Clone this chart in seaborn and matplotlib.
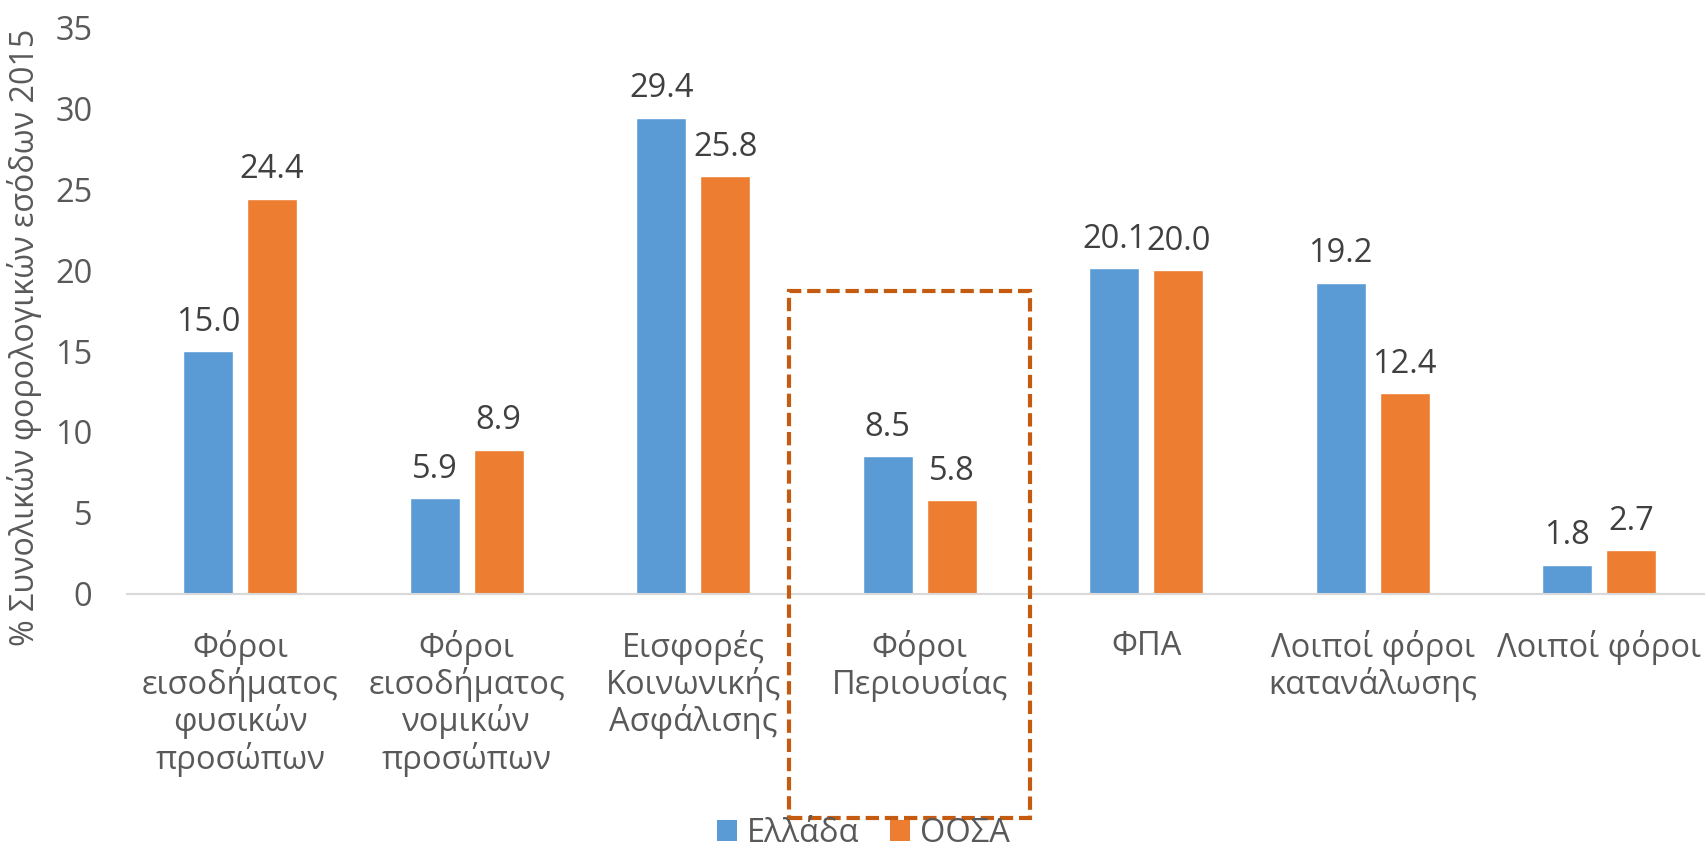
import matplotlib
matplotlib.use("Agg")
import matplotlib.pyplot as plt
import seaborn as sns
import pandas as pd
from matplotlib.patches import Rectangle, Patch

categories = [
    "Φόροι\nεισοδήματος\nφυσικών\nπροσώπων",
    "Φόροι\nεισοδήματος\nνομικών\nπροσώπων",
    "Εισφορές\nΚοινωνικής\nΑσφάλισης",
    "Φόροι\nΠεριουσίας",
    "ΦΠΑ",
    "Λοιποί φόροι\nκατανάλωσης",
    "Λοιποί φόροι",
]
series_names = ["Ελλάδα", "ΟΟΣΑ"]
greece = [15.0, 5.9, 29.4, 8.5, 20.1, 19.2, 1.8]
oecd = [24.4, 8.9, 25.8, 5.8, 20.0, 12.4, 2.7]
y_ticks = [0, 5, 10, 15, 20, 25, 30, 35]
y_label = "% Συνολικών φορολογικών εσόδων 2015"

df = pd.DataFrame({
    "cat": categories * 2,
    "series": [series_names[0]] * len(categories) + [series_names[1]] * len(categories),
    "value": greece + oecd,
})

sns.set_theme(style="white")
plt.rcParams["font.family"] = ["Open Sans", "DejaVu Sans"]

FS = 23.5
GRAY = "#595959"
DARK = "#404040"
colors = {"Ελλάδα": "#5B9BD5", "ΟΟΣΑ": "#ED7D31"}

fig = plt.figure(figsize=(17.06, 8.5), dpi=100)
ax = fig.add_axes([0.0744, 0.3012, 0.9294, 0.6670])

sns.barplot(data=df, x="cat", y="value", hue="series", order=categories,
            hue_order=series_names, palette=colors, width=0.565, gap=0.22,
            ax=ax, legend=True, saturation=1)

for cont in ax.containers:
    ax.bar_label(cont, fmt="%.1f", padding=9, fontsize=FS, color=DARK)

ax.set_xlim(-0.5, 6.5)
ax.set_ylim(0, 35)
ax.set_yticks(y_ticks)
ax.set_yticklabels([str(t) for t in y_ticks])
ax.tick_params(axis="y", length=0, pad=25, labelsize=FS, labelcolor=GRAY)
ax.tick_params(axis="x", length=0, pad=26, labelsize=FS, labelcolor=GRAY)
for lbl in ax.get_xticklabels():
    lbl.set_linespacing(1.08)
ax.set_xlabel("")
ax.set_ylabel(y_label, fontsize=23.2, color=GRAY)
ax.yaxis.set_label_coords(-0.0535, 0.452)

for s in ["top", "right", "left"]:
    ax.spines[s].set_visible(False)
ax.spines["bottom"].set_color("#D9D9D9")
ax.spines["bottom"].set_linewidth(1.5)

# dashed highlight box around "Φόροι Περιουσίας"
box_x0, box_x1 = 2.4216, 3.4857
box_y0, box_y1 = -13.83, 18.7
rect = Rectangle((box_x0, box_y0), box_x1 - box_x0, box_y1 - box_y0,
                 fill=False, edgecolor="#C55A11", linewidth=3, linestyle=(0, (3.2, 1.4)),
                 clip_on=False, zorder=5)
ax.add_patch(rect)

leg = ax.get_legend()
if leg is not None:
    leg.remove()
handles = [Patch(facecolor=colors[n], edgecolor="none") for n in series_names]
fig.legend(handles, series_names, loc="center", bbox_to_anchor=(0.506, 0.019),
           ncol=2, frameon=False, fontsize=FS, labelcolor=GRAY,
           handlelength=0.62, handleheight=0.62, handletextpad=0.3,
           columnspacing=0.95, borderpad=0)

fig.savefig("out.png", dpi=100)
